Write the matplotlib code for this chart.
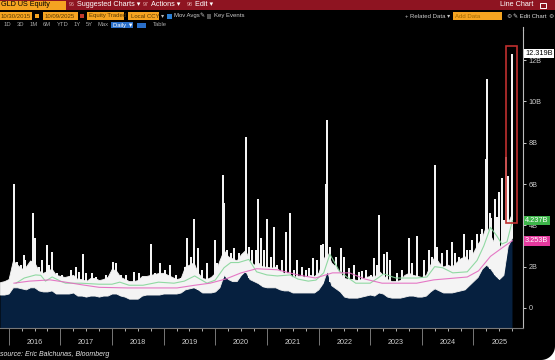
import numpy as np
import matplotlib.pyplot as plt
import matplotlib.transforms as mtransforms
from matplotlib.patches import Rectangle, Polygon
from matplotlib.lines import Line2D

plt.rcParams['font.family'] = ['Liberation Sans', 'DejaVu Sans']

# typical daily dollar volume level (white band top) and daily lows (navy top), in $B
# one value per month, Nov 2015 .. Oct 2025
body = [1.25, 1.3,
        1.4, 2.3, 2.1, 1.9, 2.0, 2.3, 2.2, 1.8, 1.7, 1.8, 1.9, 1.6,
        1.55, 1.5, 1.55, 1.6, 1.4, 1.4, 1.3, 1.45, 1.45, 1.35, 1.4, 1.5,
        1.9, 1.8, 1.5, 1.4, 1.3, 1.3, 1.35, 1.55, 1.55, 1.6, 1.65, 1.7,
        1.7, 1.6, 1.5, 1.4, 1.45, 2.0, 2.1, 2.2, 1.7, 1.45, 1.4, 1.5,
        1.7, 2.3, 2.8, 2.5, 2.4, 2.3, 2.6, 2.8, 2.3, 2.1, 2.2, 2.0,
        2.0, 1.95, 2.0, 1.8, 1.7, 1.7, 1.5, 1.55, 1.55, 1.5, 1.6, 1.55,
        1.7, 2.3, 2.7, 2.2, 2.0, 1.7, 1.45, 1.4, 1.4, 1.35, 1.4, 1.5,
        1.55, 1.5, 1.8, 1.6, 1.4, 1.3, 1.3, 1.35, 1.6, 1.7, 1.6, 1.55,
        1.5, 1.6, 2.1, 2.5, 2.2, 2.0, 2.1, 2.0, 2.2, 2.4, 2.5, 2.3,
        2.7, 3.1, 3.4, 4.0, 3.5, 3.1, 2.9, 3.3, 4.1, 4.6]
navy = [0.65, 0.65,
        0.7, 1.0, 1.0, 0.95, 0.9, 1.0, 1.0, 0.85, 0.8, 0.8, 0.85, 0.7,
        0.7, 0.7, 0.7, 0.75, 0.6, 0.6, 0.55, 0.6, 0.6, 0.55, 0.6, 0.6,
        0.7, 0.7, 0.6, 0.55, 0.45, 0.45, 0.45, 0.6, 0.65, 0.65, 0.65, 0.65,
        0.7, 0.7, 0.7, 0.7, 0.75, 0.9, 0.95, 1.0, 0.9, 0.75, 0.75, 0.75,
        0.8, 1.0, 1.6, 1.4, 1.3, 1.3, 1.6, 1.8, 1.4, 1.3, 1.2, 1.05,
        1.0, 1.0, 1.0, 0.9, 0.85, 0.85, 0.75, 0.75, 0.75, 0.75, 0.75, 0.75,
        0.9, 1.2, 1.8, 1.1, 0.95, 0.8, 0.55, 0.5, 0.5, 0.5, 0.55, 0.6,
        0.65, 0.6, 0.75, 0.7, 0.55, 0.5, 0.5, 0.5, 0.55, 0.6, 0.6, 0.55,
        0.55, 0.6, 0.8, 0.95, 0.85, 0.75, 0.75, 0.75, 0.8, 0.85, 0.9, 1.1,
        1.3, 1.5, 1.9, 2.1, 1.9, 1.6, 1.4, 1.6, 3.0, 3.4]
t_month = 2015.83 + np.arange(len(body)) / 12

# big single-day spikes (year, $B)
spike_t = [2016.10, 2016.29, 2016.47, 2016.50, 2016.74, 2016.83, 2017.30, 2017.44,
           2018.08, 2018.76, 2018.93, 2019.13, 2019.46, 2019.59, 2019.67, 2019.84,
           2020.00, 2020.14, 2020.17, 2020.37, 2020.60, 2020.83, 2020.89, 2021.01,
           2021.13, 2021.36, 2021.44, 2021.59, 2021.90, 2022.08, 2022.14, 2022.17,
           2022.43, 2022.68, 2022.85, 2023.07, 2023.18, 2023.26, 2023.32, 2023.75,
           2023.90, 2024.25, 2024.29, 2024.58, 2024.82, 2024.93, 2025.07, 2025.17,
           2025.24, 2025.26, 2025.34, 2025.42, 2025.50, 2025.55, 2025.63, 2025.67,
           2025.755]
spike_v = [6.0, 2.55, 4.6, 3.4, 3.05, 2.7, 2.0, 2.6,
           2.2, 3.1, 2.2, 2.1, 3.4, 4.3, 2.9, 2.2,
           3.3, 6.45, 5.1, 2.9, 8.3, 5.3, 3.4, 4.3,
           3.9, 3.7, 4.6, 2.3, 2.4, 3.1, 6.0, 9.1,
           2.9, 2.1, 1.8, 2.4, 4.5, 2.6, 2.7, 3.4,
           3.5, 6.9, 2.95, 3.2, 3.6, 2.8, 3.6, 3.8,
           7.2, 11.1, 4.35, 5.3, 5.6, 6.3, 7.3, 6.4,
           12.319]

# smaller day-to-day peaks (year, $B)
minor_t = [2016.00, 2016.16, 2016.23, 2016.32, 2016.39, 2016.58, 2016.65, 2016.78,
           2016.94, 2017.04, 2017.20, 2017.36, 2017.50, 2017.62, 2017.68, 2017.88,
           2018.01, 2018.17, 2018.27, 2018.42, 2018.52, 2018.61, 2018.84, 2019.03,
           2019.23, 2019.33, 2019.42, 2019.52, 2019.75, 2019.94, 2020.04, 2020.23,
           2020.30, 2020.46, 2020.65, 2020.72, 2020.78, 2020.94, 2021.07, 2021.20,
           2021.29, 2021.52, 2021.68, 2021.75, 2021.81, 2021.97, 2022.04, 2022.23,
           2022.33, 2022.49, 2022.59, 2022.78, 2022.91, 2023.01, 2023.14, 2023.39,
           2023.52, 2023.62, 2023.81, 2024.04, 2024.14, 2024.20, 2024.39, 2024.49,
           2024.65, 2024.72, 2024.88, 2024.98, 2025.14, 2025.33, 2025.46, 2025.59]
minor_v = [1.3, 2.24, 2.08, 2.32, 1.84, 2.0, 2.32, 2.08,
           1.68, 1.6, 1.84, 1.76, 1.68, 1.68, 1.52, 1.6,
           2.24, 1.6, 1.6, 1.76, 1.68, 1.44, 1.68, 1.84,
           1.6, 1.44, 2.0, 2.48, 1.84, 1.28, 2.16, 2.8,
           2.64, 2.64, 2.97, 2.8, 2.8, 2.8, 2.48, 2.08,
           2.32, 1.84, 2.0, 1.84, 1.92, 2.32, 3.05, 2.97,
           2.48, 2.48, 1.92, 1.76, 1.84, 1.6, 2.08, 2.32,
           1.68, 1.84, 2.16, 2.32, 2.8, 2.48, 2.64, 2.8,
           2.64, 2.48, 2.8, 3.3, 3.6, 4.6, 4.4, 4.26]

# moving averages
ma_short_t = [2016.14, 2016.3, 2016.52, 2016.62, 2016.71, 2016.84, 2017.0, 2017.1, 2017.4,
              2017.75, 2018.0, 2018.15, 2018.33, 2018.6, 2018.9, 2019.2, 2019.4, 2019.6,
              2019.84, 2020.0, 2020.17, 2020.3, 2020.45, 2020.65, 2020.8, 2021.0, 2021.2,
              2021.45, 2021.6, 2021.8, 2021.95, 2022.1, 2022.22, 2022.4, 2022.55, 2022.72,
              2023.0, 2023.15, 2023.26, 2023.5, 2023.9, 2024.1, 2024.25, 2024.4, 2024.6,
              2024.88, 2025.07, 2025.2, 2025.33, 2025.45, 2025.55, 2025.65, 2025.755]
ma_short_v = [1.2, 1.45, 1.6, 1.58, 1.3, 1.5, 1.3, 1.2, 1.2,
              1.15, 1.15, 1.25, 1.1, 1.1, 1.25, 1.2, 1.3, 1.55,
              1.2, 1.35, 1.95, 2.2, 2.2, 2.35, 1.75, 1.6, 1.55,
              1.6, 1.4, 1.3, 1.35, 1.7, 2.6, 1.8, 1.5, 1.2,
              1.2, 1.45, 1.65, 1.45, 1.45, 1.5, 2.0, 1.95, 1.7,
              1.75, 2.3, 3.0, 3.9, 3.5, 3.1, 3.2, 4.237]
ma_long_t = [2016.10, 2016.4, 2016.8, 2017.1, 2017.42, 2017.75, 2018.3, 2018.9, 2019.26,
             2019.6, 2019.9, 2020.2, 2020.5, 2020.8, 2021.2, 2021.6, 2021.94, 2022.27,
             2022.6, 2022.9, 2023.23, 2023.9, 2024.23, 2024.88, 2025.1, 2025.33, 2025.55,
             2025.72, 2025.755]
ma_long_v = [1.2, 1.3, 1.36, 1.25, 1.12, 1.0, 0.97, 0.97, 0.97,
             1.1, 1.2, 1.4, 1.7, 1.9, 1.85, 1.6, 1.45, 1.7,
             1.7, 1.4, 1.2, 1.2, 1.36, 1.5, 1.8, 2.5, 2.9,
             3.2, 3.253]

years = [2016, 2017, 2018, 2019, 2020, 2021, 2022, 2023, 2024, 2025]
ytick_vals = [0, 2, 4, 6, 8, 10, 12]
ytick_labels = ['0', '2B', '4B', '6B', '8B', '10B', '12B']
badges = [('12.319B', 12.319, 'white', 'black'),
          ('4.237B', 4.237, '#3db54a', 'white'),
          ('3.253B', 3.253, '#e5399f', 'white')]

W, H = 555, 360
fig = plt.figure(figsize=(W / 100, H / 100), dpi=100, facecolor='black')


def box(x0, y0, x1, y1, color, fill=True):
    fig.patches.append(Rectangle((x0 / W, 1 - y1 / H), (x1 - x0) / W, (y1 - y0) / H,
                                 transform=fig.transFigure, fill=fill,
                                 facecolor=color if fill else 'none',
                                 edgecolor=color, lw=0 if fill else 0.7))


def txt(x, y, s, color='white', size=5, **kw):
    fig.text(x / W, 1 - y / H, s, color=color, fontsize=size, va='center', **kw)


# header bars
box(0, 0, W, 10, '#8e1421')
box(0, 1, 66, 9.5, '#f5a421')
txt(1, 5, 'GLD US Equity', color='black', size=5.2)
txt(69, 5, '96', color='#e8b0b0', size=3.8)
txt(77, 5, 'Suggested Charts \u25be', size=5.2)
txt(143, 5, '97', color='#e8b0b0', size=3.8)
txt(151, 5, 'Actions \u25be', size=5.2)
txt(187, 5, '98', color='#e8b0b0', size=3.8)
txt(195, 5, 'Edit \u25be', size=5.2)
txt(500, 5, 'Line Chart', size=5.2)
box(540, 2.5, 546, 7.5, 'white', fill=False)

box(0, 12.5, 32, 19.5, '#f5a421')
txt(1, 16, '10/30/2015', color='#5a3a00', size=4.3)
box(35, 14, 39, 18, '#f5a421')
box(43, 12.5, 78, 19.5, '#f5a421')
txt(45, 16, '10/09/2025', color='#5a3a00', size=4.3)
box(80, 14, 84, 18, '#c0392b')
box(87, 12.5, 124, 19.5, '#f5a421')
txt(89, 16, 'Equity Traded', color='#5a3a00', size=4.3)
box(128, 12.5, 159, 19.5, '#f5a421')
txt(131, 16, 'Local CCY', color='#5a3a00', size=4.3)
txt(161, 16, '\u25be', color='#bbbbbb', size=4.5)
box(167, 13.5, 172, 18.5, '#2a7fd4')
txt(174, 16, 'Mov Avgs', color='#cccccc', size=4.3)
txt(199, 16, '\u270e', color='#cccccc', size=4.3)
box(207, 13.5, 211, 18.5, '#555555')
txt(214, 16, 'Key Events', color='#cccccc', size=4.3)
txt(405, 16, '+ Related Data \u25be', color='#cccccc', size=4.3)
box(453, 12.5, 502, 19.5, '#f5a421')
txt(455, 16, 'Add Data', color='#a06800', size=4.3)
txt(506, 16, '\u2699', color='#bbbbbb', size=4.3)
txt(513, 16, '\u270e Edit Chart', color='#dddddd', size=4.3)
txt(548, 16, '\u2699', color='#bbbbbb', size=4.3)

for lab, xp in zip(['1D', '3D', '1M', '6M', 'YTD', '1Y', '5Y', 'Max'],
                   [4, 17, 30, 43, 57, 74, 86, 98]):
    txt(xp, 25, lab, color='#aaaaaa', size=4.2)
box(111, 22, 133, 28, '#2a6fc9')
txt(113, 25, 'Daily \u25bc', size=4.2)
box(137, 22.5, 146, 27.5, '#2a6fc9')
txt(153, 25, 'Table', color='#aaaaaa', size=4.2)

# main chart
ax = fig.add_axes([0, 32 / H, 523 / W, 298 / H])
ax.set_facecolor('black')
ymin, ymax = -0.97, 13.46
ax.set_xlim(2015.83, 2025.96)
ax.set_ylim(ymin, ymax)

white = '#f4f4f4'
ax.fill_between(t_month, ymin, navy, color='#06203f', lw=0, zorder=1)
ax.fill_between(t_month, navy, body, color=white, lw=0.6, edgecolor=white, zorder=2)
ax.vlines(minor_t, np.interp(minor_t, t_month, navy), minor_v, color=white,
          lw=1.3, antialiased=False, zorder=2)
ax.vlines(spike_t, np.interp(spike_t, t_month, navy), spike_v, color=white,
          lw=1.4, antialiased=False, zorder=2)
ax.plot(ma_short_t, ma_short_v, color='#86d69a', lw=0.8, alpha=0.9, zorder=3)
ax.plot(ma_long_t, ma_long_v, color='#e36ac0', lw=0.8, alpha=0.9, zorder=3)

ax.add_patch(Rectangle((2025.63, 4.12), 0.215, 8.57, fill=False,
                       edgecolor='#c0302e', lw=1.2, zorder=4))

for s in ['left', 'top']:
    ax.spines[s].set_visible(False)
ax.spines['right'].set_color('#bbbbbb')
ax.spines['right'].set_linewidth(0.8)
ax.spines['bottom'].set_color('#777777')
ax.spines['bottom'].set_linewidth(0.8)

ax.yaxis.tick_right()
ax.set_yticks(ytick_vals)
ax.set_yticklabels(ytick_labels)
ax.tick_params(axis='y', colors='#cccccc', labelsize=5.2, length=2.5, width=0.7, pad=1.5)

ax.set_xticks(years)
ax.set_xticklabels([])
ax.tick_params(axis='x', which='major', length=12.5, width=0.7, color='#777777')
ax.set_xticks([y + q for y in [2015] + years for q in (0.25, 0.5, 0.75)
               if 2015.83 < y + q < 2025.96], minor=True)
ax.tick_params(axis='x', which='minor', length=1.8, width=0.6, color='#cccccc')

trans = mtransforms.blended_transform_factory(ax.transData, ax.transAxes)
for y in years:
    ax.text(y + 0.5, -0.05, str(y), transform=trans, ha='center', va='center',
            color='#d0d0d0', fontsize=5.2)

btrans = mtransforms.blended_transform_factory(ax.transAxes, ax.transData)
for lab, val, bg, fg in badges:
    ax.text(1.004, val, lab, transform=btrans, ha='left', va='center', color=fg,
            fontsize=5.3, zorder=6, clip_on=False,
            bbox=dict(boxstyle='square,pad=0.18', fc=bg, ec='none'))

fig.add_artist(Line2D([523 / W, 523 / W], [1 - 27 / H, 1 - 30 / H], color='#bbbbbb', lw=0.8))

txt(0, 354, 'source: Eric Balchunas, Bloomberg', color='#e6e6e6', size=5, style='italic')

# screenshot corner
cx, cy, r = 541, 346, 14
ang = np.linspace(0, np.pi / 2, 20)
pts = [(W, H)] + [(cx + r * np.cos(a), cy + r * np.sin(a)) for a in ang]
fig.patches.append(Polygon([(x / W, 1 - y / H) for x, y in pts], closed=True,
                           transform=fig.transFigure, color='white', lw=0))

fig.savefig('out.png', dpi=100, facecolor='black')
